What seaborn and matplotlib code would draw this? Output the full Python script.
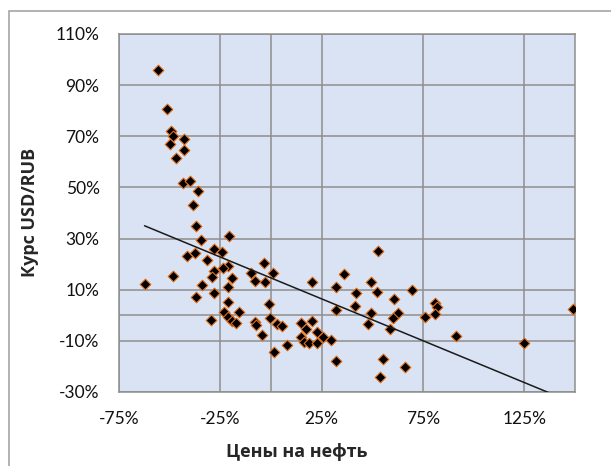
import numpy as np
import pandas as pd
import matplotlib
matplotlib.use("Agg")
import matplotlib.pyplot as plt
import matplotlib.patches as mpatches
import seaborn as sns
from matplotlib.ticker import FuncFormatter

# Oil price change (%) vs USD/RUB change (%)
oil = [-56.0, -51.4, -49.4, -48.3, -42.9, -49.9, -42.7, -46.8, -43.2, -40.0,
       -36.2, -38.5, -36.8, -34.7, -20.5, -28.3, -24.2, -41.6, -37.5, -31.6,
       -21.4, -23.8, -28.2, -29.2, -48.3, -19.0, -33.9, -21.4, -62.4, -28.2,
       -36.8, -21.4, -23.1, -16.0, -21.3, -19.1, -17.5, -29.8, -9.8, -3.6,
       0.8, -7.7, -3.1, -1.1, -7.7, -7.4, -0.5, -4.4, 3.1, 5.4,
       1.7, 8.0, 20.1, 14.8, 20.0, 17.2, 14.8, 16.4, 18.9, 22.6,
       22.6, 25.7, 29.5, 32.0, 36.1, 32.0, 32.0, 41.3, 41.8, 52.8,
       49.5, 52.1, 69.6, 60.6, 49.5, 62.7, 60.3, 48.0, 58.7, 75.9,
       81.1, 82.1, 81.1, 91.2, 124.7, 148.8, 55.2, 53.6, 66.0]
rub = [95.9, 80.7, 72.2, 70.2, 69.1, 67.0, 64.6, 61.6, 51.7, 52.4,
       48.5, 43.1, 35.0, 29.4, 30.9, 25.9, 24.6, 23.3, 24.2, 21.6,
       19.3, 18.4, 17.4, 15.1, 15.4, 14.7, 11.7, 10.9, 12.3, 8.7,
       7.3, 5.1, 1.4, 1.4, -0.6, -2.1, -3.1, -1.9, 16.4, 20.3,
       16.6, 13.5, 13.0, 4.4, -2.5, -3.8, -1.1, -7.8, -3.5, -4.3,
       -14.2, -11.6, 13.0, -3.1, -2.2, -5.4, -8.4, -10.3, -10.7, -6.7,
       -10.7, -8.4, -9.7, 10.9, 16.1, 2.1, -18.0, 3.6, 8.6, 25.3,
       13.0, 9.1, 9.9, 6.2, 0.8, 0.8, -1.2, -3.4, -5.5, -0.6,
       4.7, 3.1, 0.4, -8.0, -11.0, 2.6, -17.2, -24.0, -20.2]

x_ticks = [-75, -25, 25, 75, 125]
y_ticks = [-30, -10, 10, 30, 50, 70, 90, 110]
x_label = "Цены на нефть"
y_label = "Курс USD/RUB"

df = pd.DataFrame({"oil": oil, "rub": rub})

sns.set_style("white")
plt.rcParams["font.family"] = ["Lato", "Open Sans", "DejaVu Sans"]

W, H = 611, 466
fig = plt.figure(figsize=(W / 100, H / 100), dpi=100)
ax = fig.add_axes([119 / W, 1 - 392 / H, (575 - 119) / W, (392 - 34) / H])
ax.set_facecolor("#DAE3F3")

grid_c = "#8E8E8E"
ax.set_xlim(-75, 150)
ax.set_ylim(-30, 110)
ax.set_xticks(x_ticks)
ax.set_yticks(y_ticks)
ax.grid(True, color=grid_c, linewidth=1.1)
ax.set_axisbelow(True)
ax.axvline(0, color=grid_c, linewidth=1.1, zorder=0.5)
ax.axhline(0, color=grid_c, linewidth=1.1, zorder=0.5)
for s in ax.spines.values():
    s.set_color(grid_c)
    s.set_linewidth(1.1)

sns.scatterplot(data=df, x="oil", y="rub", ax=ax, marker="D", s=30,
                color="black", edgecolor="#E0701A", linewidth=0.8, zorder=3)

# linear trendline (least squares), spanning data x-range
k, b = np.polyfit(df["oil"], df["rub"], 1)
xs = np.array([df["oil"].min(), df["oil"].max()])
ax.plot(xs, k * xs + b, color="#1a1a1a", linewidth=1.1, zorder=4)

fmt = FuncFormatter(lambda v, p: f"{v:.0f}%")
ax.xaxis.set_major_formatter(fmt)
ax.yaxis.set_major_formatter(fmt)
ax.tick_params(axis="both", length=0, labelsize=12.5, colors="#111111")
ax.tick_params(axis="x", pad=14)
ax.tick_params(axis="y", pad=14)
ax.set_xlabel("")
ax.set_ylabel("")

fig.text(297 / W, 1 - 452 / H, x_label, ha="center", va="center",
         fontsize=13, fontweight="bold", family=["Open Sans", "DejaVu Sans"])
fig.text(30 / W, 1 - 212 / H, y_label, ha="center", va="center", rotation=90,
         fontsize=13, fontweight="bold", family=["Open Sans", "DejaVu Sans"])

border = mpatches.Rectangle((9 / W, -0.2), 1.3, 1.2 - 11 / H, transform=fig.transFigure,
                            fill=False, edgecolor="#A6A6A6", linewidth=1.2, clip_on=False)
fig.patches.append(border)

fig.savefig("out.png", dpi=100)
